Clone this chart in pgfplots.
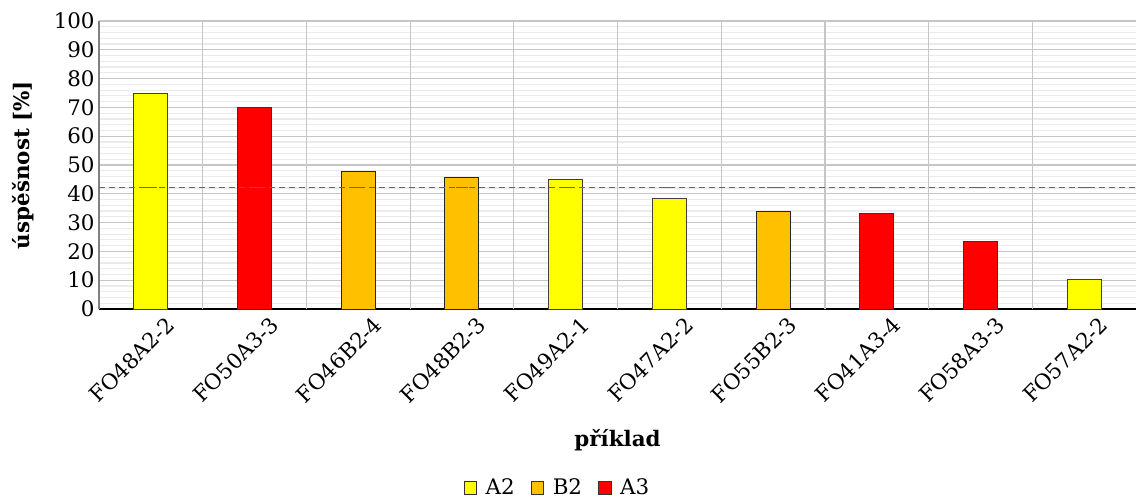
\documentclass[border=0pt]{standalone}
\usepackage{fontspec}
\setmainfont{DejaVu Serif}
\usepackage{pgfplots}
\pgfplotsset{compat=1.18}
\definecolor{cA2}{HTML}{FFFF00}
\definecolor{cB2}{HTML}{FFC000}
\definecolor{cA3}{HTML}{FF0000}
\begin{document}
\fontsize{10.7}{12.8}\selectfont
\begin{tikzpicture}
\begin{axis}[
 width=518.5pt, height=144pt, scale only axis,
 /pgf/number format/assume math mode=true,
 xmin=-0.5, xmax=9.5, ymin=0, ymax=100,
 xtick={0,...,9},
 xticklabels={FO48A2-2,FO50A3-3,FO46B2-4,FO48B2-3,FO49A2-1,FO47A2-2,FO55B2-3,FO41A3-4,FO58A3-3,FO57A2-2},
 xticklabel style={rotate=45, anchor=north east, inner sep=1pt, xshift=4pt, yshift=-6pt},
 ytick={0,10,...,100},
 yticklabel style={inner sep=1pt, xshift=-1pt},
 minor y tick num=4,
 ymajorgrids, yminorgrids,
 major grid style={draw=gray!45, line width=0.6pt},
 minor grid style={draw=gray!16, line width=0.6pt},
 extra x ticks={0.5,1.5,2.5,3.5,4.5,5.5,6.5,7.5,8.5},
 extra x tick labels={},
 extra x tick style={grid=major},
 tick style={draw=none},
 axis x line*=bottom, axis y line*=left,
 x axis line style={black, -, line width=0.8pt},
 y axis line style={gray, -, line width=0.8pt},
 ylabel={\bfseries úspěšnost [\%]},
 ylabel style={at={(axis description cs:-0.0733,0.5)}, anchor=center},
 xlabel={\bfseries příklad},
 xlabel style={at={(axis description cs:0.5,-0.455)}, anchor=center},
 legend style={at={(axis description cs:0.443,-0.6215)}, anchor=center, draw=none, fill=none, legend columns=-1, font=\fontsize{10.7}{12.8}\selectfont,
   /tikz/every even column/.append style={column sep=6pt}},
 legend image code/.code={\draw[#1, draw=black!80, line width=0.5pt] (0cm,-0.11cm) rectangle (0.22cm,0.11cm); \path (0.3cm,0cm);},
 ticklabel style={font=\fontsize{10.7}{12.8}\selectfont},
]
\addplot[ybar, bar width=17pt, fill=cA2, draw=black!75, line width=0.5pt] coordinates {(0,75) (4,44.8) (5,38.5) (9,10.4)};
\addlegendentry{A2}
\addplot[ybar, bar width=17pt, fill=cB2, draw=black!85, line width=0.5pt] coordinates {(2,47.6) (3,45.5) (6,33.7)};
\addlegendentry{B2}
\addplot[ybar, bar width=17pt, fill=cA3, draw=black!80, line width=0.5pt] coordinates {(1,69.8) (7,33.3) (8,23.6)};
\addlegendentry{A3}
\addplot[forget plot, draw=black!60, dash pattern=on 3pt off 2pt, line width=0.6pt] coordinates {(-0.5,42.2) (9.5,42.2)};
\addplot[forget plot, only marks, mark=-, mark size=3pt, draw=black!60, line width=0.9pt] coordinates {(0,42.2) (1,42.2) (2,42.2) (3,42.2) (4,42.2) (5,42.2) (6,42.2) (7,42.2) (8,42.2) (9,42.2)};
\coordinate (sw) at (rel axis cs:0,0);
\coordinate (ne) at (rel axis cs:1,1);
\end{axis}
\pgfresetboundingbox
\path ([shift={(-49.5pt,-95pt)}]sw) rectangle ([shift={(0pt,10.5pt)}]ne);
\end{tikzpicture}
\end{document}
